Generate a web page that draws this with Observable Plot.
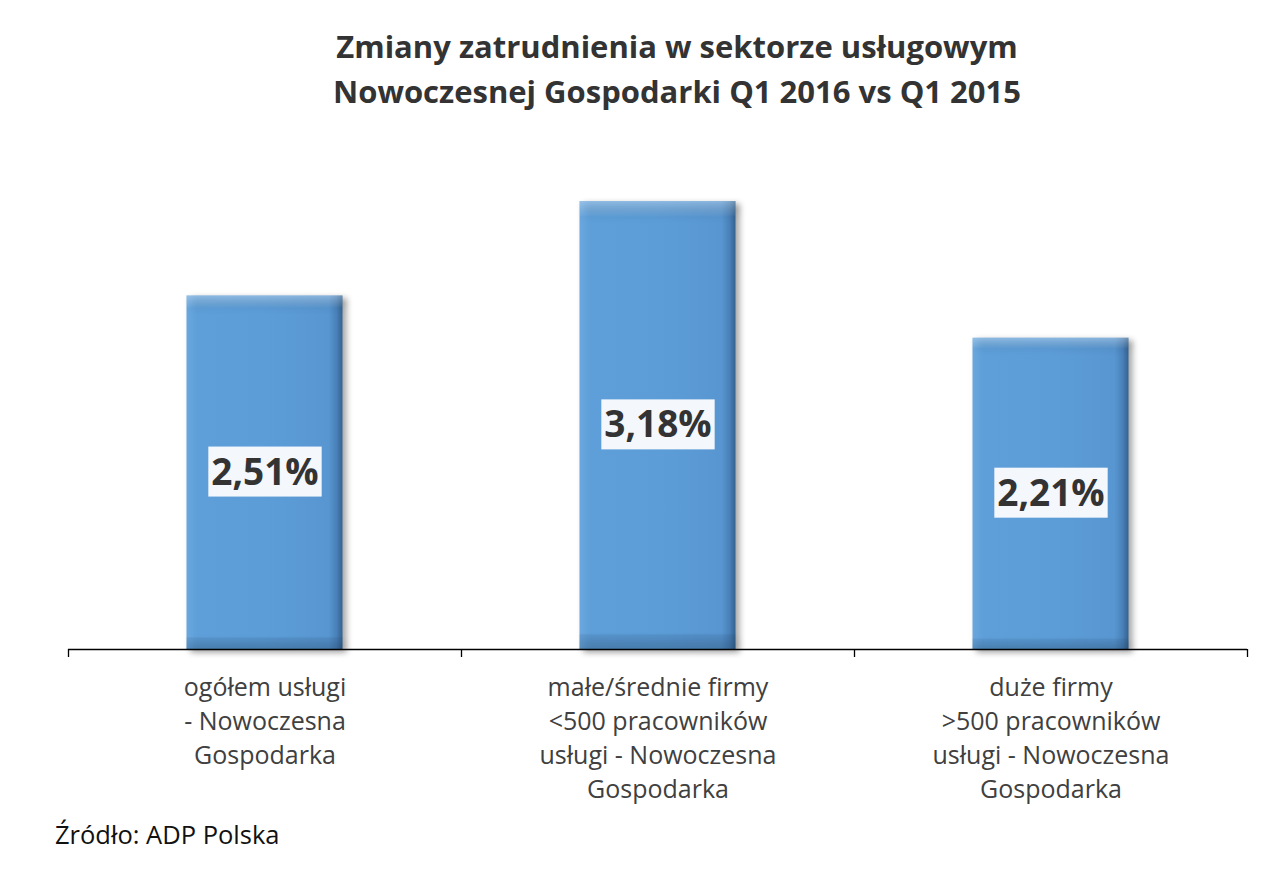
<!DOCTYPE html>
<html><head><meta charset="utf-8">
<script src="https://cdn.jsdelivr.net/npm/d3@7"></script>
<script src="https://cdn.jsdelivr.net/npm/@observablehq/plot@0.6"></script>
<style>
body{margin:0;background:#fff;font-family:"Open Sans",Lato,sans-serif;}
#wrap{position:relative;width:1287px;height:871px;overflow:hidden;background:#fff}
#title{position:absolute;left:0;top:24px;width:1287px;text-align:center;padding-left:67px;box-sizing:border-box;font-weight:bold;font-size:31px;line-height:45px;color:#333}
#chart{position:absolute;left:0;top:150px}
#caption{position:absolute;left:55px;top:817px;font-size:25.5px;color:#111}
#chart g[aria-label="bar"] rect{filter:drop-shadow(4px 3px 3px rgba(0,0,0,0.35));}
</style></head>
<body>
<div id="wrap">
  <div id="title">Zmiany zatrudnienia w sektorze usługowym<br>Nowoczesnej Gospodarki Q1 2016 vs Q1 2015</div>
  <div id="chart"></div>
  <div id="caption">Źródło: ADP Polska</div>
</div>
<script>
const categories = [
  "ogółem usługi\n- Nowoczesna\nGospodarka",
  "małe/średnie firmy\n<500 pracowników\nusługi - Nowoczesna\nGospodarka",
  "duże firmy\n>500 pracowników\nusługi - Nowoczesna\nGospodarka"
];
const values = [2.51, 3.18, 2.21];
const valueLabels = ["2,51%", "3,18%", "2,21%"];

const data = categories.map((c, i) => ({cat: c, value: values[i], label: valueLabels[i]}));

const W = 1287, H = 660, ML = 68, MR = 40, MB = 161, MT = 6;
const bw = (W - ML - MR) / categories.length;
const barW = 156;
const inset = (bw - barW) / 2;

const chart = Plot.plot({
  width: W, height: H,
  marginLeft: ML, marginRight: MR, marginTop: MT, marginBottom: MB,
  style: {fontFamily: "'Open Sans', Lato, sans-serif", background: "transparent", overflow: "visible"},
  x: {domain: categories, padding: 0, axis: null},
  y: {domain: [0, 3.5], axis: null},
  marks: [
    Plot.barY(data, {x: "cat", y: "value", insetLeft: inset, insetRight: inset, fill: "url(#hgrad)"}),
    Plot.barY(data, {x: "cat", y: "value", insetLeft: inset, insetRight: inset, fill: "url(#vgrad)"}),
    Plot.ruleY([0], {stroke: "#000", strokeWidth: 1.3}),
    Plot.ruleX(categories, {x: d => d, y1: 0, y2: 0, insetBottom: -8, dx: -bw / 2, stroke: "#000", strokeWidth: 1.3}),
    Plot.ruleX([categories[categories.length - 1]], {x: d => d, y1: 0, y2: 0, insetBottom: -8, dx: bw / 2, stroke: "#000", strokeWidth: 1.3}),
    Plot.text(categories, {x: d => d, frameAnchor: "bottom", lineAnchor: "top", dy: 22, fontSize: 25, lineHeight: 1.36, fill: "#404040"}),
    Plot.text(data, {x: "cat", y: d => d.value / 2, text: "label", fontSize: 37, fontWeight: "bold", fill: "#333", className: "vlabel"})
  ]
});

// gradients
const defs = d3.select(chart).insert("defs", ":first-child");
const hg = defs.append("linearGradient").attr("id", "hgrad").attr("x1", 0).attr("x2", 1).attr("y1", 0).attr("y2", 0);
[["0%", "#6aa7de"], ["7%", "#5e9fd9"], ["50%", "#5c9dd8"], ["91%", "#5896d1"], ["96%", "#4a82ba"], ["100%", "#34628f"]].forEach(([o, c]) => hg.append("stop").attr("offset", o).attr("stop-color", c));
const vg = defs.append("linearGradient").attr("id", "vgrad").attr("x1", 0).attr("x2", 0).attr("y1", 0).attr("y2", 1);
[["0%", "#ffffff", 0.3], ["3%", "#ffffff", 0.06], ["3.5%", "#ffffff", 0], ["96.5%", "#000000", 0], ["97%", "#1f3f60", 0.12], ["100%", "#1f3f60", 0.25]].forEach(([o, c, op]) => vg.append("stop").attr("offset", o).attr("stop-color", c).attr("stop-opacity", op));

document.getElementById("chart").appendChild(chart);

// white boxes behind value labels
const labelTexts = chart.querySelectorAll(".vlabel text");
labelTexts.forEach(t => {
  const b = t.getBBox();
  const r = document.createElementNS("http://www.w3.org/2000/svg", "rect");
  r.setAttribute("x", b.x - 3);
  r.setAttribute("y", b.y + 2);
  r.setAttribute("width", b.width + 6);
  r.setAttribute("height", b.height - 1);
  r.setAttribute("fill", "#f4f7fc");
  const tr = t.getAttribute("transform");
  if (tr) r.setAttribute("transform", tr);
  t.parentNode.insertBefore(r, t);
});
</script>
</body></html>
